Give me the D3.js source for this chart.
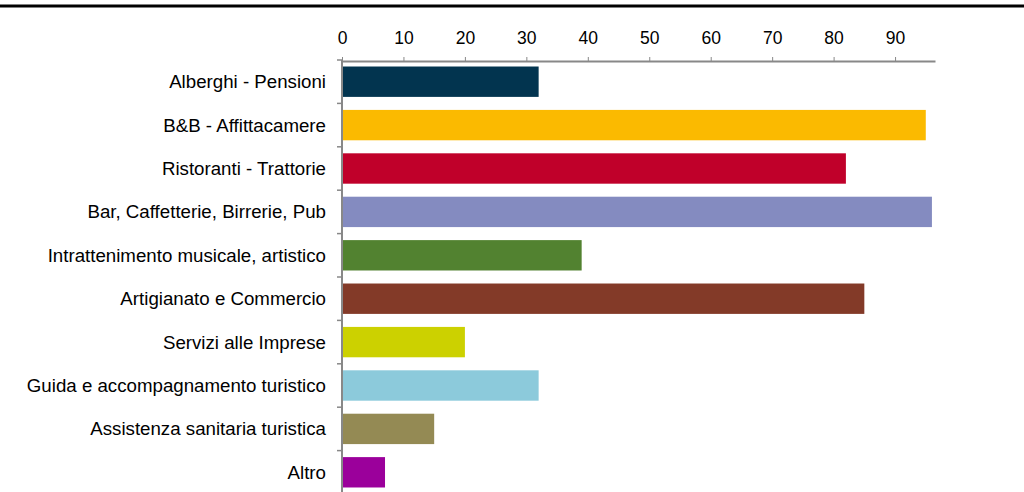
<!DOCTYPE html>
<html><head><meta charset="utf-8">
<script src="https://cdn.jsdelivr.net/npm/d3@7"></script>
<style>html,body{margin:0;padding:0;background:#fff}svg{display:block}</style>
</head><body>
<script>
const categories = ["Alberghi - Pensioni","B&B - Affittacamere","Ristoranti - Trattorie","Bar, Caffetterie, Birrerie, Pub","Intrattenimento musicale, artistico","Artigianato e Commercio","Servizi alle Imprese","Guida e accompagnamento turistico","Assistenza sanitaria turistica","Altro"];
const values = [32, 95, 82, 96, 39, 85, 20, 32, 15, 7];
const colors = ["#02344f","#fbba00","#c0002a","#848bc0","#528230","#833a28","#ccd100","#8ccadb","#948a54","#9b009b"];
const tickValues = [0,10,20,30,40,50,60,70,80,90];

const W = 1024, H = 492;
const svg = d3.select("body").append("svg").attr("width", W).attr("height", H);
const font = "'Liberation Sans', Arial, sans-serif";

svg.append("line").attr("x1",0).attr("x2",W).attr("y1",6).attr("y2",6)
  .attr("stroke","#000").attr("stroke-width",3);

const x = d3.scaleLinear().domain([0, 96.5]).range([342, 935]);
const y = d3.scaleBand().domain(categories).range([60, 494]).paddingInner(0.3).paddingOuter(0.15);

svg.selectAll("rect.bar").data(values).enter().append("rect")
  .attr("class","bar")
  .attr("x", x(0))
  .attr("y", (d,i) => y(categories[i]))
  .attr("width", d => x(d) - x(0))
  .attr("height", y.bandwidth())
  .attr("fill", (d,i) => colors[i]);

// top x axis
const xAxis = d3.axisTop(x).tickValues(tickValues).tickSize(4).tickSizeOuter(0).tickPadding(13);
const gx = svg.append("g").attr("transform","translate(0,61)").call(xAxis);
gx.select(".domain").attr("stroke","#888").attr("stroke-width",2);
gx.selectAll(".tick line").attr("stroke","#888");
gx.selectAll("text").attr("font-family",font).attr("font-size",17.5).attr("fill","#000");

// left axis
const step = y.step();
const boundaries = d3.range(0, categories.length).map(i => 60 + i*step);
const gy = svg.append("g");
gy.append("line").attr("x1",342).attr("x2",342).attr("y1",60).attr("y2",494)
  .attr("stroke","#888").attr("stroke-width",2);
gy.selectAll("line.tk").data(boundaries).enter().append("line")
  .attr("x1",337).attr("x2",342).attr("y1",d=>d).attr("y2",d=>d)
  .attr("stroke","#888").attr("stroke-width",1.5);
gy.selectAll("text").data(categories).enter().append("text")
  .attr("x",326).attr("y",d => y(d) + y.bandwidth()/2)
  .attr("dy","0.35em").attr("text-anchor","end")
  .attr("font-family",font).attr("font-size",18.7).attr("fill","#000")
  .text(d=>d);
</script>
</body></html>
